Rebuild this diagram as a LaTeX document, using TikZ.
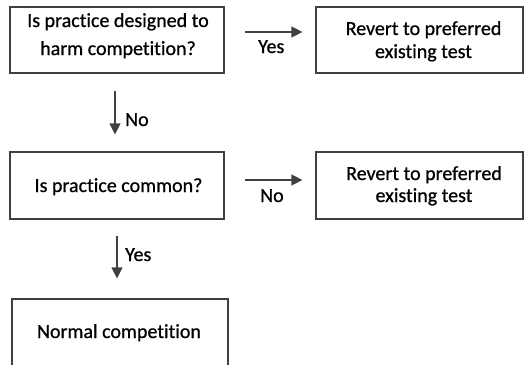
\documentclass[tikz,border=0pt]{standalone}
\usepackage{fontspec}
\setmainfont[Ligatures=NoCommon, FakeBold=0.8]{Carlito}
\usetikzlibrary{arrows.meta}
\definecolor{edge}{HTML}{404040}
\tikzset{
  box/.style={draw=edge, line width=1.2pt, minimum width=214pt, minimum height=66pt, inner sep=0pt},
  txt/.style={align=center, inner sep=0pt, anchor=base, font=\fontsize{20}{28}\selectfont},
  conn/.style={draw=edge, line width=1.2pt, -{Triangle[length=11pt,width=11pt]}},
  lbl/.style={font=\fontsize{20}{24}\selectfont, inner sep=0pt, anchor=base west}
}
\begin{document}
\begin{tikzpicture}[x=1pt,y=-1pt]
\useasboundingbox (0,0) rectangle (527,364);
\clip (0,0) rectangle (527,364);
\node[box] (b1) at (117,40) {};
\node[box, minimum width=207pt] (b2) at (419.5,40) {};
\node[box, minimum height=67pt] (b3) at (117,185.5) {};
\node[box, minimum width=207pt, minimum height=67pt] (b4) at (419.5,185.5) {};
\node[box, minimum width=216pt, minimum height=80pt] (b5) at (120,339) {};
\node[txt] (t1) at (118,55) {Is practice designed to\\harm competition?};
\node[txt, font=\fontsize{20}{23}\selectfont] (t2) at (423.5,58) {Revert to preferred\\existing test};
\node[txt] (t3) at (118.5,192) {Is practice common?};
\node[txt, font=\fontsize{20}{22}\selectfont] (t4) at (424,202) {Revert to preferred\\existing test};
\node[txt] (t5) at (119,338) {Normal competition};
\draw[conn, shorten <=20pt, shorten >=13pt] ([yshift=8pt]b1.east) -- ([yshift=8pt]b2.west);
\node[lbl] (l1) at (258,53) {Yes};
\draw[conn, shorten <=17pt, shorten >=17pt] ([xshift=-2pt]b1.south) -- ([xshift=-2pt]b3.north);
\node[lbl] (l2) at (125,126) {No};
\draw[conn, shorten <=20pt, shorten >=13pt] ([yshift=5.5pt]b3.east) -- ([yshift=5.5pt]b4.west);
\node[lbl] (l3) at (260,202) {No};
\draw[conn, shorten <=16pt, shorten >=20pt] (b3.south) -- (b3.south |- b5.north);
\node[lbl] (l4) at (125,261) {Yes};
\end{tikzpicture}
\end{document}
